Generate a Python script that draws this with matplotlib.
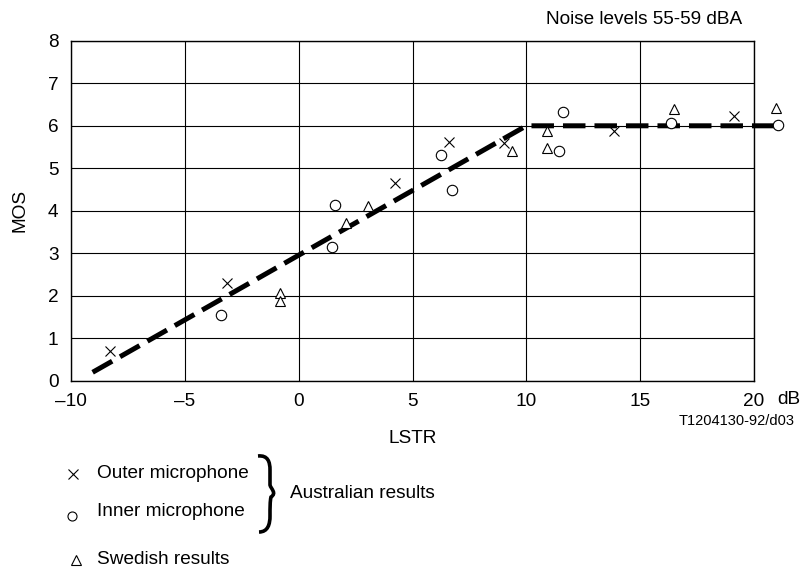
import matplotlib
matplotlib.use("Agg")
import matplotlib.pyplot as plt
from matplotlib.path import Path
from matplotlib.patches import PathPatch

plt.rcParams['font.family'] = ['Liberation Sans', 'DejaVu Sans']

# Data
outer_x = [-8.3, -3.15, 4.25, 6.6, 9.0, 13.85, 19.1]
outer_y = [0.70, 2.31, 4.65, 5.62, 5.59, 5.88, 6.24]
inner_x = [-3.4, 1.45, 1.6, 6.25, 6.75, 11.45, 11.6, 16.35, 21.05]
inner_y = [1.54, 3.14, 4.14, 5.31, 4.49, 5.41, 6.32, 6.07, 6.03]
swed_x = [-0.83, -0.83, 2.1, 3.05, 9.35, 10.9, 10.9, 16.5, 20.95]
swed_y = [2.06, 1.88, 3.72, 4.12, 5.41, 5.88, 5.47, 6.4, 6.41]
fit_x = [-9.05, 10.0, 21.0]
fit_y = [0.2, 6.0, 6.0]
x_ticks = [-10, -5, 0, 5, 10, 15, 20]
x_ticklabels = ['\u201310', '\u20135', '0', '5', '10', '15', '20']
y_ticks = [0, 1, 2, 3, 4, 5, 6, 7, 8]

FS = 13.7

fig = plt.figure(figsize=(8.05, 5.72), dpi=100)
ax = fig.add_axes([71/805, 1-380.8/572, (754-71)/805, (380.8-40.8)/572])
ax.set_xlim(-10, 20)
ax.set_ylim(0, 8)
ax.set_xticks(x_ticks)
ax.set_xticklabels(x_ticklabels)
ax.set_yticks(y_ticks)
ax.tick_params(length=0, labelsize=FS)
ax.tick_params(axis='x', pad=9)
ax.tick_params(axis='y', pad=9)
ax.grid(True, color='black', linewidth=0.8)
ax.set_axisbelow(True)
for s in ax.spines.values():
    s.set_linewidth(1.0)

ax.plot(fit_x, fit_y, color='black', linewidth=3.6, linestyle=(0, (4.5, 1.8)),
        clip_on=False, solid_capstyle='butt', dash_capstyle='butt', zorder=3)

mk = dict(linestyle='none', markerfacecolor='white', markeredgecolor='black',
          markeredgewidth=0.8, clip_on=False, zorder=4)
ax.plot(outer_x, outer_y, marker='x', markersize=7.5, color='black',
        linestyle='none', markeredgewidth=0.8, clip_on=False, zorder=4)
ax.plot(inner_x, inner_y, marker='o', markersize=7.5, **mk)
ax.plot(swed_x, swed_y, marker='^', markersize=7.5, **mk)

ax.set_ylabel('MOS', fontsize=FS, labelpad=14)
ax.set_xlabel('LSTR', fontsize=FS, labelpad=14)

fig.text(742/805, 1-20/572, 'Noise levels 55-59 dBA', fontsize=FS,
         ha='right', va='center')
fig.text(789/805, 1-400/572, 'dB', fontsize=FS, ha='center', va='center')
fig.text(795/805, 1-421/572, 'T1204130-92/d03', fontsize=10.5,
         ha='right', va='center')

# Legend
fig.lines.append(plt.Line2D([73/805], [1-474/572], marker='x', markersize=7.5,
                            color='black', markeredgewidth=0.8,
                            transform=fig.transFigure))
fig.lines.append(plt.Line2D([72/805], [1-516/572], marker='o', markersize=6.5,
                            markerfacecolor='white', markeredgecolor='black',
                            markeredgewidth=0.8, transform=fig.transFigure))
fig.lines.append(plt.Line2D([76/805], [1-560/572], marker='^', markersize=6.5,
                            markerfacecolor='white', markeredgecolor='black',
                            markeredgewidth=0.8, transform=fig.transFigure))
fig.text(97/805, 1-474/572, 'Outer microphone', fontsize=FS, va='center')
fig.text(97/805, 1-512/572, 'Inner microphone', fontsize=FS, va='center')
fig.text(97/805, 1-559/572, 'Swedish results', fontsize=FS, va='center')
fig.text(290/805, 1-493/572, 'Australian results', fontsize=FS, va='center')

# Brace drawn in pixel coordinates
def P(x, y):
    return (x/805, 1-y/572)
verts = [P(258, 456), P(268, 455), P(270, 462), P(270, 470),
         P(270, 478), P(270, 485), P(271, 489), P(277, 493),
         P(271, 497), P(270, 501), P(270, 508), P(270, 516),
         P(270, 524), P(268, 532), P(259, 532)]
codes = [Path.MOVETO, Path.CURVE4, Path.CURVE4, Path.CURVE4,
         Path.LINETO, Path.LINETO, Path.CURVE4, Path.CURVE4,
         Path.CURVE4, Path.CURVE4, Path.LINETO, Path.LINETO,
         Path.CURVE4, Path.CURVE4, Path.CURVE4]
fig.patches.append(PathPatch(Path(verts, codes), facecolor='none',
                             edgecolor='black', linewidth=2.6,
                             transform=fig.transFigure))

fig.savefig('out.png', dpi=100)
